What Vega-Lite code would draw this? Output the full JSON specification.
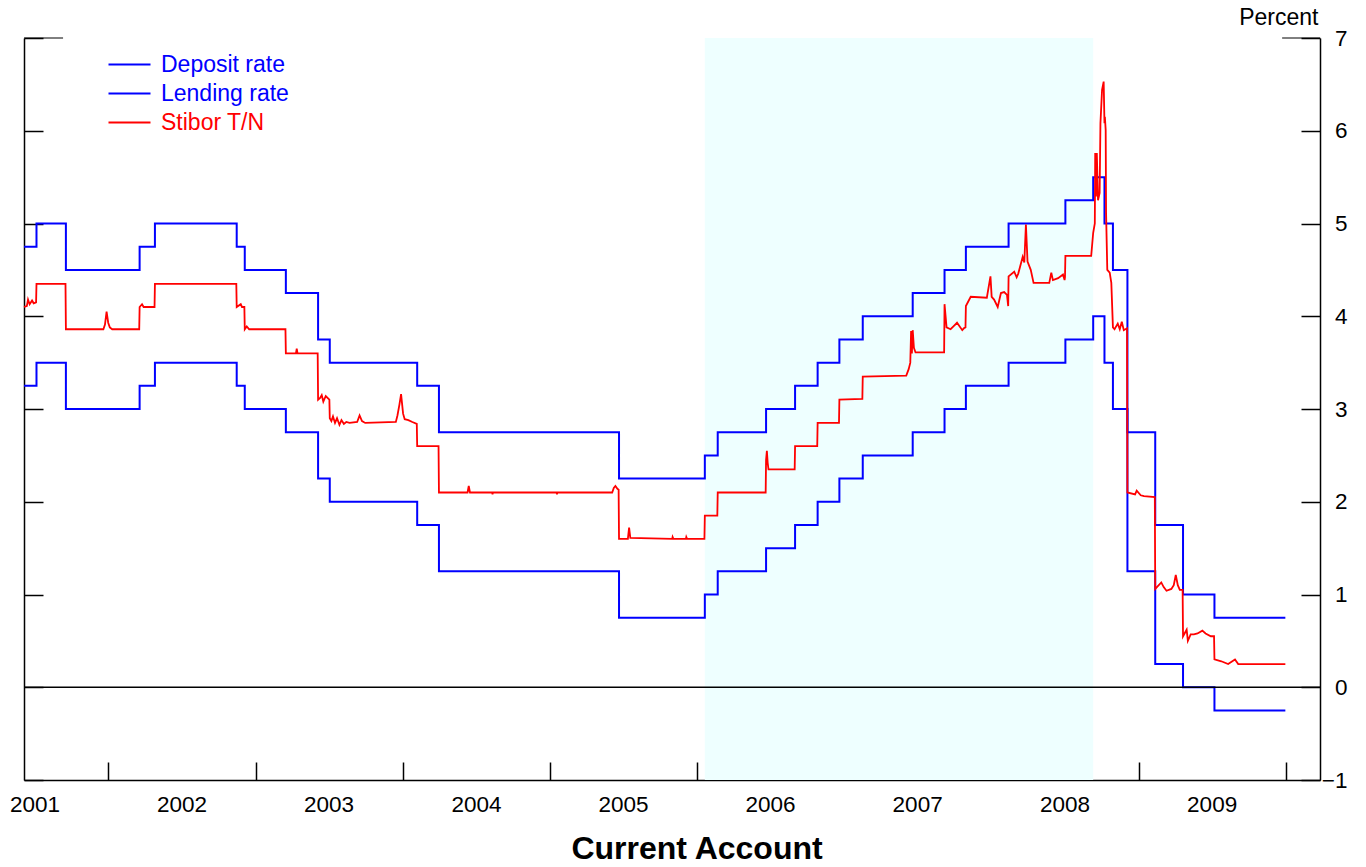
{
  "$schema": "https://vega.github.io/schema/vega-lite/v6.json",
  "width": 1296,
  "height": 742,
  "autosize": {"type": "none"},
  "padding": {"left": 24, "top": 38, "right": 46, "bottom": 87},
  "background": "white",
  "config": {"view": {"stroke": null}, "font": "Liberation Sans"},
  "datasets": {
    "band": [{"start": "2006-01-20", "end": "2008-09-10"}],
    "frame": [
      {"start": "2001-06-05", "end": "2001-09-10", "v": 7},
      {"start": "2009-12-23", "end": "2010-03-27", "v": 7}
    ],
    "policy": [
      {"date": "2001-06-05", "series": "Deposit rate", "rate": 3.25},
      {"date": "2001-07-06", "series": "Deposit rate", "rate": 3.5},
      {"date": "2001-09-17", "series": "Deposit rate", "rate": 3.0},
      {"date": "2002-03-19", "series": "Deposit rate", "rate": 3.25},
      {"date": "2002-04-26", "series": "Deposit rate", "rate": 3.5},
      {"date": "2002-11-15", "series": "Deposit rate", "rate": 3.25},
      {"date": "2002-12-05", "series": "Deposit rate", "rate": 3.0},
      {"date": "2003-03-17", "series": "Deposit rate", "rate": 2.75},
      {"date": "2003-06-05", "series": "Deposit rate", "rate": 2.25},
      {"date": "2003-07-04", "series": "Deposit rate", "rate": 2.0},
      {"date": "2004-02-06", "series": "Deposit rate", "rate": 1.75},
      {"date": "2004-03-31", "series": "Deposit rate", "rate": 1.25},
      {"date": "2005-06-21", "series": "Deposit rate", "rate": 0.75},
      {"date": "2006-01-20", "series": "Deposit rate", "rate": 1.0},
      {"date": "2006-02-21", "series": "Deposit rate", "rate": 1.25},
      {"date": "2006-06-21", "series": "Deposit rate", "rate": 1.5},
      {"date": "2006-09-01", "series": "Deposit rate", "rate": 1.75},
      {"date": "2006-10-27", "series": "Deposit rate", "rate": 2.0},
      {"date": "2006-12-20", "series": "Deposit rate", "rate": 2.25},
      {"date": "2007-02-16", "series": "Deposit rate", "rate": 2.5},
      {"date": "2007-06-20", "series": "Deposit rate", "rate": 2.75},
      {"date": "2007-09-07", "series": "Deposit rate", "rate": 3.0},
      {"date": "2007-10-30", "series": "Deposit rate", "rate": 3.25},
      {"date": "2008-02-13", "series": "Deposit rate", "rate": 3.5},
      {"date": "2008-07-03", "series": "Deposit rate", "rate": 3.75},
      {"date": "2008-09-10", "series": "Deposit rate", "rate": 4.0},
      {"date": "2008-10-08", "series": "Deposit rate", "rate": 3.5},
      {"date": "2008-10-29", "series": "Deposit rate", "rate": 3.0},
      {"date": "2008-12-04", "series": "Deposit rate", "rate": 1.25},
      {"date": "2009-02-11", "series": "Deposit rate", "rate": 0.25},
      {"date": "2009-04-21", "series": "Deposit rate", "rate": 0.0},
      {"date": "2009-07-08", "series": "Deposit rate", "rate": -0.25},
      {"date": "2009-12-31", "series": "Deposit rate", "rate": -0.25},
      {"date": "2001-06-05", "series": "Lending rate", "rate": 4.75},
      {"date": "2001-07-06", "series": "Lending rate", "rate": 5.0},
      {"date": "2001-09-17", "series": "Lending rate", "rate": 4.5},
      {"date": "2002-03-19", "series": "Lending rate", "rate": 4.75},
      {"date": "2002-04-26", "series": "Lending rate", "rate": 5.0},
      {"date": "2002-11-15", "series": "Lending rate", "rate": 4.75},
      {"date": "2002-12-05", "series": "Lending rate", "rate": 4.5},
      {"date": "2003-03-17", "series": "Lending rate", "rate": 4.25},
      {"date": "2003-06-05", "series": "Lending rate", "rate": 3.75},
      {"date": "2003-07-04", "series": "Lending rate", "rate": 3.5},
      {"date": "2004-02-06", "series": "Lending rate", "rate": 3.25},
      {"date": "2004-03-31", "series": "Lending rate", "rate": 2.75},
      {"date": "2005-06-21", "series": "Lending rate", "rate": 2.25},
      {"date": "2006-01-20", "series": "Lending rate", "rate": 2.5},
      {"date": "2006-02-21", "series": "Lending rate", "rate": 2.75},
      {"date": "2006-06-21", "series": "Lending rate", "rate": 3.0},
      {"date": "2006-09-01", "series": "Lending rate", "rate": 3.25},
      {"date": "2006-10-27", "series": "Lending rate", "rate": 3.5},
      {"date": "2006-12-20", "series": "Lending rate", "rate": 3.75},
      {"date": "2007-02-16", "series": "Lending rate", "rate": 4.0},
      {"date": "2007-06-20", "series": "Lending rate", "rate": 4.25},
      {"date": "2007-09-07", "series": "Lending rate", "rate": 4.5},
      {"date": "2007-10-30", "series": "Lending rate", "rate": 4.75},
      {"date": "2008-02-13", "series": "Lending rate", "rate": 5.0},
      {"date": "2008-07-03", "series": "Lending rate", "rate": 5.25},
      {"date": "2008-09-10", "series": "Lending rate", "rate": 5.5},
      {"date": "2008-10-08", "series": "Lending rate", "rate": 5.0},
      {"date": "2008-10-29", "series": "Lending rate", "rate": 4.5},
      {"date": "2008-12-04", "series": "Lending rate", "rate": 2.75},
      {"date": "2009-02-11", "series": "Lending rate", "rate": 1.75},
      {"date": "2009-04-21", "series": "Lending rate", "rate": 1.0},
      {"date": "2009-07-08", "series": "Lending rate", "rate": 0.75},
      {"date": "2009-12-31", "series": "Lending rate", "rate": 0.75}
    ],
    "stibor": [
      {"date": "2001-06-05", "series": "Stibor T/N", "rate": 4.10},
      {"date": "2001-06-12", "series": "Stibor T/N", "rate": 4.11},
      {"date": "2001-06-15", "series": "Stibor T/N", "rate": 4.18},
      {"date": "2001-06-19", "series": "Stibor T/N", "rate": 4.13},
      {"date": "2001-06-25", "series": "Stibor T/N", "rate": 4.17},
      {"date": "2001-06-29", "series": "Stibor T/N", "rate": 4.14},
      {"date": "2001-07-05", "series": "Stibor T/N", "rate": 4.15},
      {"date": "2001-07-06", "series": "Stibor T/N", "rate": 4.35},
      {"date": "2001-09-16", "series": "Stibor T/N", "rate": 4.35},
      {"date": "2001-09-17", "series": "Stibor T/N", "rate": 3.86},
      {"date": "2001-12-19", "series": "Stibor T/N", "rate": 3.86},
      {"date": "2001-12-23", "series": "Stibor T/N", "rate": 3.91},
      {"date": "2001-12-27", "series": "Stibor T/N", "rate": 4.05},
      {"date": "2001-12-31", "series": "Stibor T/N", "rate": 3.93},
      {"date": "2002-01-04", "series": "Stibor T/N", "rate": 3.88},
      {"date": "2002-01-10", "series": "Stibor T/N", "rate": 3.86},
      {"date": "2002-03-18", "series": "Stibor T/N", "rate": 3.86},
      {"date": "2002-03-19", "series": "Stibor T/N", "rate": 4.10},
      {"date": "2002-03-25", "series": "Stibor T/N", "rate": 4.13},
      {"date": "2002-03-29", "series": "Stibor T/N", "rate": 4.10},
      {"date": "2002-04-25", "series": "Stibor T/N", "rate": 4.10},
      {"date": "2002-04-26", "series": "Stibor T/N", "rate": 4.35},
      {"date": "2002-11-14", "series": "Stibor T/N", "rate": 4.35},
      {"date": "2002-11-15", "series": "Stibor T/N", "rate": 4.10},
      {"date": "2002-11-25", "series": "Stibor T/N", "rate": 4.13},
      {"date": "2002-11-28", "series": "Stibor T/N", "rate": 4.10},
      {"date": "2002-12-04", "series": "Stibor T/N", "rate": 4.10},
      {"date": "2002-12-05", "series": "Stibor T/N", "rate": 3.86},
      {"date": "2002-12-10", "series": "Stibor T/N", "rate": 3.89},
      {"date": "2002-12-16", "series": "Stibor T/N", "rate": 3.86},
      {"date": "2003-03-16", "series": "Stibor T/N", "rate": 3.86},
      {"date": "2003-03-17", "series": "Stibor T/N", "rate": 3.60},
      {"date": "2003-04-11", "series": "Stibor T/N", "rate": 3.60},
      {"date": "2003-04-13", "series": "Stibor T/N", "rate": 3.65},
      {"date": "2003-04-15", "series": "Stibor T/N", "rate": 3.60},
      {"date": "2003-06-04", "series": "Stibor T/N", "rate": 3.60},
      {"date": "2003-06-05", "series": "Stibor T/N", "rate": 3.10},
      {"date": "2003-06-10", "series": "Stibor T/N", "rate": 3.12},
      {"date": "2003-06-14", "series": "Stibor T/N", "rate": 3.15},
      {"date": "2003-06-18", "series": "Stibor T/N", "rate": 3.08},
      {"date": "2003-06-24", "series": "Stibor T/N", "rate": 3.14},
      {"date": "2003-07-03", "series": "Stibor T/N", "rate": 3.10},
      {"date": "2003-07-04", "series": "Stibor T/N", "rate": 2.90},
      {"date": "2003-07-08", "series": "Stibor T/N", "rate": 2.87},
      {"date": "2003-07-12", "series": "Stibor T/N", "rate": 2.92},
      {"date": "2003-07-17", "series": "Stibor T/N", "rate": 2.85},
      {"date": "2003-07-22", "series": "Stibor T/N", "rate": 2.90},
      {"date": "2003-07-28", "series": "Stibor T/N", "rate": 2.83},
      {"date": "2003-08-02", "series": "Stibor T/N", "rate": 2.88},
      {"date": "2003-08-08", "series": "Stibor T/N", "rate": 2.84},
      {"date": "2003-08-14", "series": "Stibor T/N", "rate": 2.86},
      {"date": "2003-08-22", "series": "Stibor T/N", "rate": 2.85},
      {"date": "2003-09-10", "series": "Stibor T/N", "rate": 2.86},
      {"date": "2003-09-16", "series": "Stibor T/N", "rate": 2.93},
      {"date": "2003-09-22", "series": "Stibor T/N", "rate": 2.87},
      {"date": "2003-09-30", "series": "Stibor T/N", "rate": 2.85},
      {"date": "2003-12-15", "series": "Stibor T/N", "rate": 2.86},
      {"date": "2003-12-19", "series": "Stibor T/N", "rate": 2.93},
      {"date": "2003-12-24", "series": "Stibor T/N", "rate": 3.05},
      {"date": "2003-12-28", "series": "Stibor T/N", "rate": 3.16},
      {"date": "2004-01-02", "series": "Stibor T/N", "rate": 2.95},
      {"date": "2004-01-06", "series": "Stibor T/N", "rate": 2.89},
      {"date": "2004-01-15", "series": "Stibor T/N", "rate": 2.88},
      {"date": "2004-01-25", "series": "Stibor T/N", "rate": 2.86},
      {"date": "2004-02-05", "series": "Stibor T/N", "rate": 2.84},
      {"date": "2004-02-06", "series": "Stibor T/N", "rate": 2.60},
      {"date": "2004-03-30", "series": "Stibor T/N", "rate": 2.60},
      {"date": "2004-03-31", "series": "Stibor T/N", "rate": 2.10},
      {"date": "2004-06-10", "series": "Stibor T/N", "rate": 2.10},
      {"date": "2004-06-13", "series": "Stibor T/N", "rate": 2.17},
      {"date": "2004-06-16", "series": "Stibor T/N", "rate": 2.10},
      {"date": "2004-08-10", "series": "Stibor T/N", "rate": 2.10},
      {"date": "2004-08-11", "series": "Stibor T/N", "rate": 2.08},
      {"date": "2004-08-12", "series": "Stibor T/N", "rate": 2.10},
      {"date": "2005-01-17", "series": "Stibor T/N", "rate": 2.10},
      {"date": "2005-01-18", "series": "Stibor T/N", "rate": 2.08},
      {"date": "2005-01-19", "series": "Stibor T/N", "rate": 2.10},
      {"date": "2005-06-04", "series": "Stibor T/N", "rate": 2.10},
      {"date": "2005-06-08", "series": "Stibor T/N", "rate": 2.15},
      {"date": "2005-06-12", "series": "Stibor T/N", "rate": 2.17},
      {"date": "2005-06-17", "series": "Stibor T/N", "rate": 2.14},
      {"date": "2005-06-20", "series": "Stibor T/N", "rate": 2.13},
      {"date": "2005-06-21", "series": "Stibor T/N", "rate": 1.60},
      {"date": "2005-07-13", "series": "Stibor T/N", "rate": 1.60},
      {"date": "2005-07-16", "series": "Stibor T/N", "rate": 1.72},
      {"date": "2005-07-19", "series": "Stibor T/N", "rate": 1.61},
      {"date": "2005-10-31", "series": "Stibor T/N", "rate": 1.60},
      {"date": "2005-11-01", "series": "Stibor T/N", "rate": 1.62},
      {"date": "2005-11-03", "series": "Stibor T/N", "rate": 1.60},
      {"date": "2005-12-04", "series": "Stibor T/N", "rate": 1.60},
      {"date": "2005-12-05", "series": "Stibor T/N", "rate": 1.62},
      {"date": "2005-12-07", "series": "Stibor T/N", "rate": 1.60},
      {"date": "2006-01-19", "series": "Stibor T/N", "rate": 1.60},
      {"date": "2006-01-20", "series": "Stibor T/N", "rate": 1.85},
      {"date": "2006-02-20", "series": "Stibor T/N", "rate": 1.85},
      {"date": "2006-02-21", "series": "Stibor T/N", "rate": 2.10},
      {"date": "2006-06-20", "series": "Stibor T/N", "rate": 2.10},
      {"date": "2006-06-21", "series": "Stibor T/N", "rate": 2.45},
      {"date": "2006-06-23", "series": "Stibor T/N", "rate": 2.55},
      {"date": "2006-06-25", "series": "Stibor T/N", "rate": 2.42},
      {"date": "2006-06-27", "series": "Stibor T/N", "rate": 2.35},
      {"date": "2006-08-31", "series": "Stibor T/N", "rate": 2.35},
      {"date": "2006-09-01", "series": "Stibor T/N", "rate": 2.60},
      {"date": "2006-10-26", "series": "Stibor T/N", "rate": 2.60},
      {"date": "2006-10-27", "series": "Stibor T/N", "rate": 2.85},
      {"date": "2006-12-19", "series": "Stibor T/N", "rate": 2.85},
      {"date": "2006-12-20", "series": "Stibor T/N", "rate": 3.10},
      {"date": "2007-02-15", "series": "Stibor T/N", "rate": 3.11},
      {"date": "2007-02-16", "series": "Stibor T/N", "rate": 3.35},
      {"date": "2007-06-04", "series": "Stibor T/N", "rate": 3.36},
      {"date": "2007-06-10", "series": "Stibor T/N", "rate": 3.43},
      {"date": "2007-06-14", "series": "Stibor T/N", "rate": 3.50},
      {"date": "2007-06-16", "series": "Stibor T/N", "rate": 3.84},
      {"date": "2007-06-18", "series": "Stibor T/N", "rate": 3.60},
      {"date": "2007-06-20", "series": "Stibor T/N", "rate": 3.85},
      {"date": "2007-06-23", "series": "Stibor T/N", "rate": 3.66},
      {"date": "2007-06-27", "series": "Stibor T/N", "rate": 3.61},
      {"date": "2007-09-06", "series": "Stibor T/N", "rate": 3.61},
      {"date": "2007-09-07", "series": "Stibor T/N", "rate": 4.13},
      {"date": "2007-09-12", "series": "Stibor T/N", "rate": 3.88},
      {"date": "2007-09-22", "series": "Stibor T/N", "rate": 3.86},
      {"date": "2007-10-01", "series": "Stibor T/N", "rate": 3.90},
      {"date": "2007-10-08", "series": "Stibor T/N", "rate": 3.93},
      {"date": "2007-10-21", "series": "Stibor T/N", "rate": 3.85},
      {"date": "2007-10-25", "series": "Stibor T/N", "rate": 3.87},
      {"date": "2007-10-29", "series": "Stibor T/N", "rate": 3.88},
      {"date": "2007-10-30", "series": "Stibor T/N", "rate": 4.11},
      {"date": "2007-11-11", "series": "Stibor T/N", "rate": 4.21},
      {"date": "2007-12-21", "series": "Stibor T/N", "rate": 4.20},
      {"date": "2007-12-30", "series": "Stibor T/N", "rate": 4.43},
      {"date": "2008-01-02", "series": "Stibor T/N", "rate": 4.21},
      {"date": "2008-01-08", "series": "Stibor T/N", "rate": 4.18},
      {"date": "2008-01-17", "series": "Stibor T/N", "rate": 4.10},
      {"date": "2008-01-25", "series": "Stibor T/N", "rate": 4.25},
      {"date": "2008-02-02", "series": "Stibor T/N", "rate": 4.26},
      {"date": "2008-02-09", "series": "Stibor T/N", "rate": 4.23},
      {"date": "2008-02-12", "series": "Stibor T/N", "rate": 4.11},
      {"date": "2008-02-13", "series": "Stibor T/N", "rate": 4.43},
      {"date": "2008-02-27", "series": "Stibor T/N", "rate": 4.48},
      {"date": "2008-03-04", "series": "Stibor T/N", "rate": 4.42},
      {"date": "2008-03-08", "series": "Stibor T/N", "rate": 4.46},
      {"date": "2008-03-19", "series": "Stibor T/N", "rate": 4.64},
      {"date": "2008-03-23", "series": "Stibor T/N", "rate": 4.58},
      {"date": "2008-03-27", "series": "Stibor T/N", "rate": 4.99},
      {"date": "2008-03-31", "series": "Stibor T/N", "rate": 4.59},
      {"date": "2008-04-08", "series": "Stibor T/N", "rate": 4.50},
      {"date": "2008-04-15", "series": "Stibor T/N", "rate": 4.36},
      {"date": "2008-05-24", "series": "Stibor T/N", "rate": 4.36},
      {"date": "2008-05-29", "series": "Stibor T/N", "rate": 4.47},
      {"date": "2008-06-02", "series": "Stibor T/N", "rate": 4.39},
      {"date": "2008-06-15", "series": "Stibor T/N", "rate": 4.41},
      {"date": "2008-06-27", "series": "Stibor T/N", "rate": 4.45},
      {"date": "2008-07-01", "series": "Stibor T/N", "rate": 4.39},
      {"date": "2008-07-02", "series": "Stibor T/N", "rate": 4.42},
      {"date": "2008-07-03", "series": "Stibor T/N", "rate": 4.65},
      {"date": "2008-09-05", "series": "Stibor T/N", "rate": 4.65},
      {"date": "2008-09-10", "series": "Stibor T/N", "rate": 4.90},
      {"date": "2008-09-14", "series": "Stibor T/N", "rate": 5.00},
      {"date": "2008-09-15", "series": "Stibor T/N", "rate": 5.76},
      {"date": "2008-09-17", "series": "Stibor T/N", "rate": 5.29},
      {"date": "2008-09-19", "series": "Stibor T/N", "rate": 5.76},
      {"date": "2008-09-22", "series": "Stibor T/N", "rate": 5.25},
      {"date": "2008-09-26", "series": "Stibor T/N", "rate": 5.33},
      {"date": "2008-09-28", "series": "Stibor T/N", "rate": 6.08},
      {"date": "2008-10-02", "series": "Stibor T/N", "rate": 6.44},
      {"date": "2008-10-06", "series": "Stibor T/N", "rate": 6.53},
      {"date": "2008-10-08", "series": "Stibor T/N", "rate": 6.08},
      {"date": "2008-10-09", "series": "Stibor T/N", "rate": 6.15},
      {"date": "2008-10-11", "series": "Stibor T/N", "rate": 6.01},
      {"date": "2008-10-12", "series": "Stibor T/N", "rate": 5.11},
      {"date": "2008-10-15", "series": "Stibor T/N", "rate": 4.50},
      {"date": "2008-10-21", "series": "Stibor T/N", "rate": 4.47},
      {"date": "2008-10-25", "series": "Stibor T/N", "rate": 4.36},
      {"date": "2008-10-29", "series": "Stibor T/N", "rate": 3.88},
      {"date": "2008-11-02", "series": "Stibor T/N", "rate": 3.86},
      {"date": "2008-11-10", "series": "Stibor T/N", "rate": 3.92},
      {"date": "2008-11-15", "series": "Stibor T/N", "rate": 3.86},
      {"date": "2008-11-20", "series": "Stibor T/N", "rate": 3.94},
      {"date": "2008-11-25", "series": "Stibor T/N", "rate": 3.85},
      {"date": "2008-12-03", "series": "Stibor T/N", "rate": 3.87},
      {"date": "2008-12-04", "series": "Stibor T/N", "rate": 2.10},
      {"date": "2008-12-23", "series": "Stibor T/N", "rate": 2.08},
      {"date": "2008-12-27", "series": "Stibor T/N", "rate": 2.12},
      {"date": "2009-01-06", "series": "Stibor T/N", "rate": 2.07},
      {"date": "2009-01-14", "series": "Stibor T/N", "rate": 2.06},
      {"date": "2009-02-10", "series": "Stibor T/N", "rate": 2.05},
      {"date": "2009-02-11", "series": "Stibor T/N", "rate": 1.06},
      {"date": "2009-02-26", "series": "Stibor T/N", "rate": 1.13},
      {"date": "2009-03-04", "series": "Stibor T/N", "rate": 1.08},
      {"date": "2009-03-11", "series": "Stibor T/N", "rate": 1.04},
      {"date": "2009-03-23", "series": "Stibor T/N", "rate": 1.06},
      {"date": "2009-03-29", "series": "Stibor T/N", "rate": 1.10},
      {"date": "2009-04-03", "series": "Stibor T/N", "rate": 1.21},
      {"date": "2009-04-08", "series": "Stibor T/N", "rate": 1.10},
      {"date": "2009-04-13", "series": "Stibor T/N", "rate": 1.05},
      {"date": "2009-04-20", "series": "Stibor T/N", "rate": 1.05},
      {"date": "2009-04-21", "series": "Stibor T/N", "rate": 0.55},
      {"date": "2009-04-30", "series": "Stibor T/N", "rate": 0.62},
      {"date": "2009-05-03", "series": "Stibor T/N", "rate": 0.50},
      {"date": "2009-05-10", "series": "Stibor T/N", "rate": 0.57},
      {"date": "2009-05-18", "series": "Stibor T/N", "rate": 0.57},
      {"date": "2009-05-27", "series": "Stibor T/N", "rate": 0.58},
      {"date": "2009-06-08", "series": "Stibor T/N", "rate": 0.61},
      {"date": "2009-06-16", "series": "Stibor T/N", "rate": 0.58},
      {"date": "2009-06-29", "series": "Stibor T/N", "rate": 0.55},
      {"date": "2009-07-07", "series": "Stibor T/N", "rate": 0.55},
      {"date": "2009-07-08", "series": "Stibor T/N", "rate": 0.30},
      {"date": "2009-07-25", "series": "Stibor T/N", "rate": 0.28},
      {"date": "2009-08-11", "series": "Stibor T/N", "rate": 0.25},
      {"date": "2009-08-28", "series": "Stibor T/N", "rate": 0.30},
      {"date": "2009-09-05", "series": "Stibor T/N", "rate": 0.25},
      {"date": "2009-12-31", "series": "Stibor T/N", "rate": 0.25}
    ]
  },
  "layer": [
    {
      "data": {"name": "band"},
      "mark": {"type": "rect", "color": "#EEFFFF"},
      "encoding": {
        "x": {"field": "start", "type": "temporal", "scale": {"type": "utc", "domain": [{"year": 2001, "month": 6, "date": 5, "utc": true}, {"year": 2010, "month": 3, "date": 27, "utc": true}]}},
        "x2": {"field": "end"}
      }
    },
    {
      "data": {"name": "frame"},
      "mark": {"type": "rule", "color": "black", "strokeWidth": 1},
      "encoding": {
        "x": {"field": "start", "type": "temporal"},
        "x2": {"field": "end"},
        "y": {"field": "v", "type": "quantitative", "axis": null}
      }
    },
    {
      "data": {"name": "policy"},
      "mark": {"type": "line", "interpolate": "step-after", "strokeWidth": 2},
      "encoding": {
        "x": {
          "field": "date", "type": "temporal",
          "axis": {
            "values": [
              {"year": 2001, "month": 7, "date": 1, "utc": true},
              {"year": 2002, "month": 7, "date": 1, "utc": true},
              {"year": 2003, "month": 7, "date": 1, "utc": true},
              {"year": 2004, "month": 7, "date": 1, "utc": true},
              {"year": 2005, "month": 7, "date": 1, "utc": true},
              {"year": 2006, "month": 7, "date": 1, "utc": true},
              {"year": 2007, "month": 7, "date": 1, "utc": true},
              {"year": 2008, "month": 7, "date": 1, "utc": true},
              {"year": 2009, "month": 7, "date": 1, "utc": true}
            ],
            "format": "%Y",
            "tickOffset": 74,
            "labelOffset": -74,
            "tickSize": -18,
            "tickWidth": 1.5,
            "tickColor": "black",
            "domainColor": "black",
            "domainWidth": 1.5,
            "labelPadding": 31,
            "labelFontSize": 22.5,
            "labelColor": "black",
            "labelFont": "Liberation Sans",
            "labelOverlap": false,
            "labelFlush": false,
            "labelBound": false,
            "grid": false,
            "title": "Current Account",
            "titleFont": "Liberation Sans",
            "titleFontSize": 32,
            "titleFontWeight": "bold",
            "titleColor": "black",
            "titleX": 672.5,
            "titleY": 68,
            "titleAlign": "center",
            "titleBaseline": "middle"
          }
        },
        "y": {
          "field": "rate", "type": "quantitative",
          "scale": {"domain": [-1, 7], "nice": false, "zero": false},
          "axis": {
            "orient": "left",
            "values": [-1, 0, 1, 2, 3, 4, 5, 6, 7],
            "labels": false,
            "tickSize": -19,
            "tickWidth": 1.5,
            "tickColor": "black",
            "domainColor": "black",
            "domainWidth": 1.5,
            "grid": false,
            "title": null
          }
        },
        "color": {
          "field": "series", "type": "nominal",
          "scale": {"domain": ["Deposit rate", "Lending rate", "Stibor T/N"], "range": ["#0000FF", "#0000FF", "#FF0000"]},
          "legend": {
            "orient": "none",
            "legendX": 94,
            "legendY": 15,
            "title": null,
            "padding": 0,
            "symbolType": "M-3,0H3",
            "symbolSize": 196,
            "symbolStrokeWidth": 2,
            "labelFont": "Liberation Sans",
            "labelFontSize": 23,
            "labelOffset": 20,
            "rowPadding": 5,
            "encode": {"labels": {"update": {"fill": {"scale": "color", "field": "value"}}}}
          }
        }
      }
    },
    {
      "data": {"name": "stibor"},
      "mark": {"type": "line", "strokeWidth": 1.8},
      "encoding": {
        "x": {"field": "date", "type": "temporal"},
        "y": {
          "field": "rate", "type": "quantitative",
          "axis": {
            "orient": "right",
            "values": [-1, 0, 1, 2, 3, 4, 5, 6, 7],
            "tickSize": -19,
            "tickWidth": 1.5,
            "tickColor": "black",
            "domainColor": "black",
            "domainWidth": 1.5,
            "labelPadding": 46,
            "labelAlign": "right",
            "labelBaseline": "middle",
            "labelFont": "Liberation Sans",
            "labelFontSize": 22.5,
            "labelColor": "black",
            "labelFlush": false,
            "labelOverlap": false,
            "grid": false,
            "title": "Percent",
            "titleAngle": 0,
            "titleAlign": "right",
            "titleBaseline": "middle",
            "titleX": -2,
            "titleY": -21,
            "titleFont": "Liberation Sans",
            "titleFontSize": 23,
            "titleFontWeight": "normal",
            "titleColor": "black"
          }
        },
        "color": {"field": "series", "type": "nominal"}
      }
    },
    {
      "data": {"values": [{"level": 0}]},
      "mark": {"type": "rule", "color": "black", "strokeWidth": 1.5},
      "encoding": {
        "y": {"field": "level", "type": "quantitative", "axis": null}
      }
    }
  ],
  "resolve": {"axis": {"y": "independent"}}
}
